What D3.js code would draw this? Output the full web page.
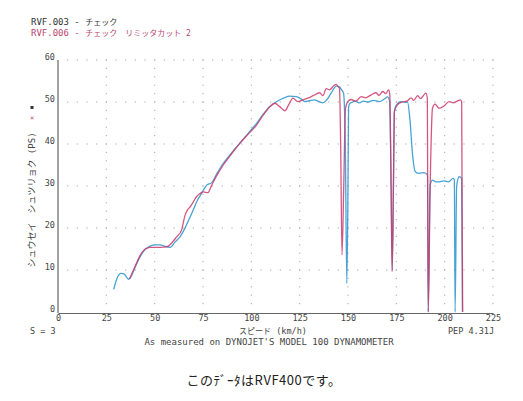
<!DOCTYPE html>
<html><head><meta charset="utf-8">
<script src="https://cdn.jsdelivr.net/npm/d3@7/dist/d3.min.js"></script>
<style>
html,body{margin:0;padding:0;background:#fff;}
svg{display:block;}
.mono{font-family:"DejaVu Sans Mono","Noto Sans CJK JP",monospace;}
</style></head>
<body>
<svg id="chart" width="523" height="401"></svg>
<script>
// ---- data ----
const xTicks = [0,25,50,75,100,125,150,175,200,225];
const yTicks = [0,10,20,30,40,50,60];
const seriesNames = ["RVF.003 - ", "RVF.006 - "];
const seriesNotes = ["チェック", "チェック　リミッタカット 2"];

const speed003 = [28.8,30.5,32.6,34.3,36.5,38.0,40.0,42.5,45.1,47.7,50.3,52.8,55.4,58.0,60.6,63.1,65.5,67.5,69.5,72.0,74.3,76.9,79.5,82.0,85.5,90.0,94.1,98.5,102.7,106.0,109.5,113.8,117.0,119.8,123.3,125.5,127.6,130.0,132.7,135.0,137.0,138.8,141.3,143.9,145.6,146.5,147.7,148.6,149.4,150.0,150.3,150.8,152.5,153.4,155.9,158.0,160.5,163.0,166.2,168.8,170.5,171.5,172.3,172.9,173.5,174.0,174.9,177.4,179.5,180.8,182.0,183.4,184.8,186.8,189.4,191.1,191.5,192.5,193.7,195.5,197.1,199.5,202.0,204.4,205.0,205.4,206.2,207.5,208.8,209.2];
const power003 = [5.4,8.0,9.2,9.0,7.8,8.6,10.8,13.2,14.9,15.7,16.0,16.0,15.6,15.4,16.7,17.9,19.8,21.8,23.8,26.5,28.3,30.2,30.8,32.8,35.4,38.0,40.2,42.6,44.9,47.0,48.9,50.3,51.0,51.4,51.3,50.8,50.1,50.3,50.5,50.1,49.8,50.4,52.1,53.8,53.6,53.0,52.1,40.0,6.8,30.0,48.6,49.6,50.0,50.2,49.8,50.2,50.0,50.4,50.1,50.7,51.2,50.2,30.0,10.0,30.0,47.7,49.2,50.1,49.9,50.0,46.0,37.4,33.4,33.0,33.2,32.6,0,30.2,31.4,31.0,31.0,31.2,31.0,31.8,31.5,0,30.0,32.2,31.8,0];

const speed006 = [37.0,40.0,42.5,45.1,47.7,50.3,52.8,56.2,58.9,61.4,63.9,65.7,67.0,68.3,70.0,71.7,73.5,75.2,77.5,79.5,82.0,85.5,90.0,94.1,98.5,102.7,106.0,109.5,112.1,114.7,117.3,119.5,121.5,124.0,126.6,129.2,132.0,135.3,137.0,138.8,140.5,142.5,143.9,145.0,145.6,146.2,146.9,147.8,148.7,149.9,151.6,154.0,156.8,159.0,162.0,164.5,166.0,168.0,169.5,171.0,171.6,172.3,172.8,173.5,174.0,175.7,178.0,180.5,182.6,184.0,186.0,187.5,190.3,191.0,191.5,192.5,193.7,195.0,197.1,199.5,202.3,204.5,206.5,208.2,208.8,209.3];
const power006 = [7.9,11.0,13.5,15.0,15.4,15.4,15.4,15.5,16.5,17.9,19.5,23.0,24.3,25.0,26.2,27.5,28.2,28.6,28.4,30.2,32.4,35.0,37.8,40.2,42.4,44.5,46.8,48.8,49.7,48.9,47.9,49.5,50.9,50.1,50.5,50.9,51.5,52.2,51.5,53.2,52.9,53.8,54.2,53.6,53.3,40.0,13.6,30.0,48.5,50.1,50.6,50.2,51.3,51.0,51.7,52.2,51.6,52.5,52.0,52.9,51.8,30.0,9.6,30.0,47.7,49.4,50.0,50.2,51.0,50.4,51.5,50.8,52.1,51.0,0,30.0,48.5,49.5,48.5,49.0,50.1,49.8,50.2,50.5,50.0,0];

const colors = ["#3399d0", "#cc3a6a"];

// ---- chart ----
const svg = d3.select("#chart");
const x = d3.scaleLinear().domain([0,225]).range([58,493]);
const y = d3.scaleLinear().domain([0,60]).range([312,60]);

// dotted grid
const grid = svg.append("g").attr("fill","#b5b5b5");
const hDots = [];
yTicks.filter(v=>v>0).forEach(yv=>{ d3.range(5,226,5).forEach(xv=>hDots.push([xv,yv])); });
const vDots = [];
xTicks.filter(v=>v>0).forEach(xv=>{ d3.range(2,61,2).forEach(yv=>vDots.push([xv,yv])); });
grid.selectAll("rect.d").data(hDots.concat(vDots)).join("rect")
  .attr("x",d=>x(d[0])-0.6).attr("y",d=>y(d[1])-0.6).attr("width",1.2).attr("height",1.2);

// axes
const xAxis = svg.append("g").attr("transform","translate(0,313)")
  .call(d3.axisBottom(x).tickValues(xTicks).tickSize(0).tickPadding(1.5).tickSizeOuter(0));
const yAxis = svg.append("g").attr("transform","translate(58,0)")
  .call(d3.axisLeft(y).tickValues(yTicks).tickSize(0).tickPadding(3).tickSizeOuter(0));
yAxis.select(".domain").attr("d","M0,60V313");
[xAxis,yAxis].forEach(g=>{
  g.select(".domain").attr("stroke","#666").attr("stroke-width",1.2);
  g.selectAll("text").attr("class","mono").attr("font-size",8.5).attr("fill","#444");
});
yAxis.selectAll("text").attr("y",-3);

// lines
svg.append("clipPath").attr("id","clip").append("rect")
  .attr("x",58).attr("y",40).attr("width",440).attr("height",273);
const line = d3.line().x(d=>x(d[0])).y(d=>y(d[1])).curve(d3.curveMonotoneX);
const s003 = speed003.map((v,i)=>[v,power003[i]]);
const s006 = speed006.map((v,i)=>[v,power006[i]]);
const lg = svg.append("g").attr("clip-path","url(#clip)");
lg.append("path").datum(s003).attr("d",line).attr("fill","none")
  .attr("stroke",colors[0]).attr("stroke-width",1.3).attr("stroke-opacity",0.9);
lg.append("path").datum(s006).attr("d",line).attr("fill","none")
  .attr("stroke",colors[1]).attr("stroke-width",1.3).attr("stroke-opacity",0.85);

// legend
const legColors = ["#333", "#b8486f"];
seriesNames.forEach((n,i)=>{
  const t = svg.append("text").attr("class","mono").attr("x",31).attr("y",25+i*11)
    .attr("font-size",9).attr("fill",legColors[i]);
  t.append("tspan").text(n);
  t.append("tspan").attr("font-size",8).text(seriesNotes[i]);
});

// y label with markers
svg.append("text").attr("class","mono")
  .attr("transform","translate(35,200) rotate(-90)")
  .attr("text-anchor","middle").attr("font-size",9).attr("fill","#444")
  .text("シュウセイ　シュツリョク (PS)");
svg.append("rect").attr("x",30.5).attr("y",106).attr("width",3).attr("height",3).attr("fill","#333");
svg.append("text").attr("class","mono").attr("x",32).attr("y",120)
  .attr("text-anchor","middle").attr("font-size",7).attr("fill","#c0406a").text("×");

// bottom texts
svg.append("text").attr("class","mono").attr("x",30).attr("y",334)
  .attr("font-size",8.5).attr("fill","#444").text("S = 3");
const xl = svg.append("text").attr("class","mono").attr("x",273).attr("y",334)
  .attr("text-anchor","middle").attr("font-size",8.5).attr("fill","#444");
xl.append("tspan").attr("font-size",8).text("スピード");
xl.append("tspan").text(" (km/h)");
svg.append("text").attr("class","mono").attr("x",494).attr("y",334)
  .attr("text-anchor","end").attr("font-size",8.5).attr("fill","#444").text("PEP 4.31J");
svg.append("text").attr("class","mono").attr("x",269).attr("y",345)
  .attr("text-anchor","middle").attr("font-size",9).attr("fill","#444")
  .text("As measured on DYNOJET'S MODEL 100 DYNAMOMETER");

// caption
svg.append("text").attr("x",264).attr("y",385)
  .attr("text-anchor","middle").attr("font-size",13).attr("letter-spacing",0.5).attr("fill","#222")
  .attr("font-family","'Noto Sans CJK JP','Noto Sans',sans-serif")
  .text("このﾃﾞｰﾀはRVF400です。");
</script>
</body></html>
